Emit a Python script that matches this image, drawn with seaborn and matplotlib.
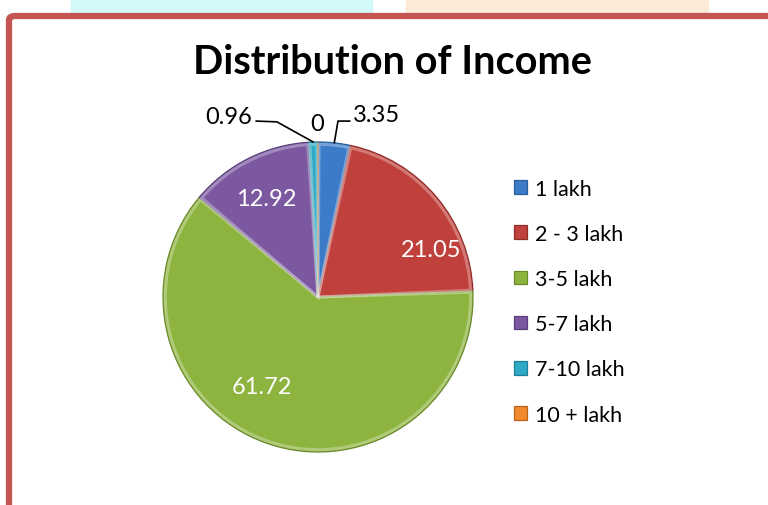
import numpy as np
import matplotlib
matplotlib.use("Agg")
import matplotlib.pyplot as plt
import seaborn as sns
from matplotlib.patches import FancyBboxPatch, Rectangle, Wedge

sns.set_theme(style="white")
plt.rcParams["font.family"] = ["Lato", "DejaVu Sans"]
plt.rcParams["text.color"] = "black"

# data
categories = ["1 lakh", "2 - 3 lakh", "3-5 lakh", "5-7 lakh", "7-10 lakh", "10 + lakh"]
shares = [3.35, 21.05, 61.72, 12.92, 0.96, 0]
value_labels = ["3.35", "21.05", "61.72", "12.92", "0.96", "0"]
colors = ["#3c7bc8", "#c0403c", "#8db43f", "#7b58a0", "#2fa9c5", "#f08a2c"]
edge_colors = ["#2a5c99", "#8f2c29", "#6a8a2a", "#5a3e7c", "#1f7f96", "#b8641c"]

W, H = 768, 506
fig = plt.figure(figsize=(W / 100, H / 100), dpi=100)

# watermark strip above the frame
fig.patches.append(Rectangle((71 / W, 1 - 16 / H), 301 / W, 16 / H,
                             transform=fig.transFigure, color="#d2f9f9", zorder=-2))
fig.patches.append(Rectangle((406 / W, 1 - 16 / H), 302 / W, 16 / H,
                             transform=fig.transFigure, color="#fdebd8", zorder=-2))
# red chart frame (runs off right and bottom)
fig.patches.append(FancyBboxPatch((9 / W, -0.05), 1.1, 1 - 17 / H + 0.05,
                                  boxstyle="round,pad=0,rounding_size=0.008",
                                  transform=fig.transFigure, facecolor="white",
                                  edgecolor="#c55552", linewidth=4.5, zorder=-1))

cx, cy, r = 318, 298, 155
ax = fig.add_axes([(cx - r) / W, (H - cy - r) / H, 2 * r / W, 2 * r / H])
ax.set_zorder(2)

wedges, _ = ax.pie(shares, colors=colors, startangle=90, counterclock=False,
                   radius=1.0, wedgeprops=dict(linewidth=0.9))
for w, ec in zip(wedges, edge_colors):
    w.set_edgecolor(ec)
    # soft bevel highlight just inside each slice edge
    if w.theta2 - w.theta1 > 0.5:
        ax.add_patch(Wedge((0, 0), 0.985, w.theta1 + 0.4, w.theta2 - 0.4,
                           facecolor="none", edgecolor="white", alpha=0.3,
                           linewidth=2.2))
ax.set_xlim(-1, 1)
ax.set_ylim(-1, 1)
ax.set_aspect("equal")
ax.axis("off")

def mid_angle(w):
    return np.deg2rad((w.theta1 + w.theta2) / 2)

# inside labels (angle nudge, radius)
inside = {1: (-17, 0.79), 2: (-13, 0.68), 3: (1, 0.72)}
for i, (da, rr) in inside.items():
    a = mid_angle(wedges[i]) + np.deg2rad(da)
    ax.text(rr * np.cos(a), rr * np.sin(a), value_labels[i], color="white",
            fontsize=17, ha="center", va="center")

# outside labels with leader lines
a0 = mid_angle(wedges[0])
p0 = (np.cos(a0), np.sin(a0))
ax.plot([p0[0], 0.129, 0.206], [p0[1], 1.135, 1.135], color="black", lw=1.2, clip_on=False)
ax.text(0.226, 1.175, value_labels[0], fontsize=17, ha="left", va="center")

a4 = mid_angle(wedges[4])
p4 = (np.cos(a4), np.sin(a4))
ax.plot([p4[0], -0.265, -0.40], [p4[1], 1.13, 1.135], color="black", lw=1.2, clip_on=False)
ax.text(-0.426, 1.165, value_labels[4], fontsize=17, ha="right", va="center")
ax.text(-0.006, 1.12, value_labels[5], fontsize=17, ha="center", va="center")

fig.text(392 / W, 1 - 62 / H, "Distribution of Income", fontsize=28.5,
         fontweight="bold", ha="center", va="center")

leg = fig.legend(wedges, categories, loc="upper left",
                 bbox_to_anchor=(505 / W, 1 - 171 / H), frameon=False,
                 fontsize=15.5, handlelength=0.6, handleheight=0.6,
                 handletextpad=0.4, labelspacing=1.17, borderaxespad=0)

fig.savefig("out.png", dpi=100)
